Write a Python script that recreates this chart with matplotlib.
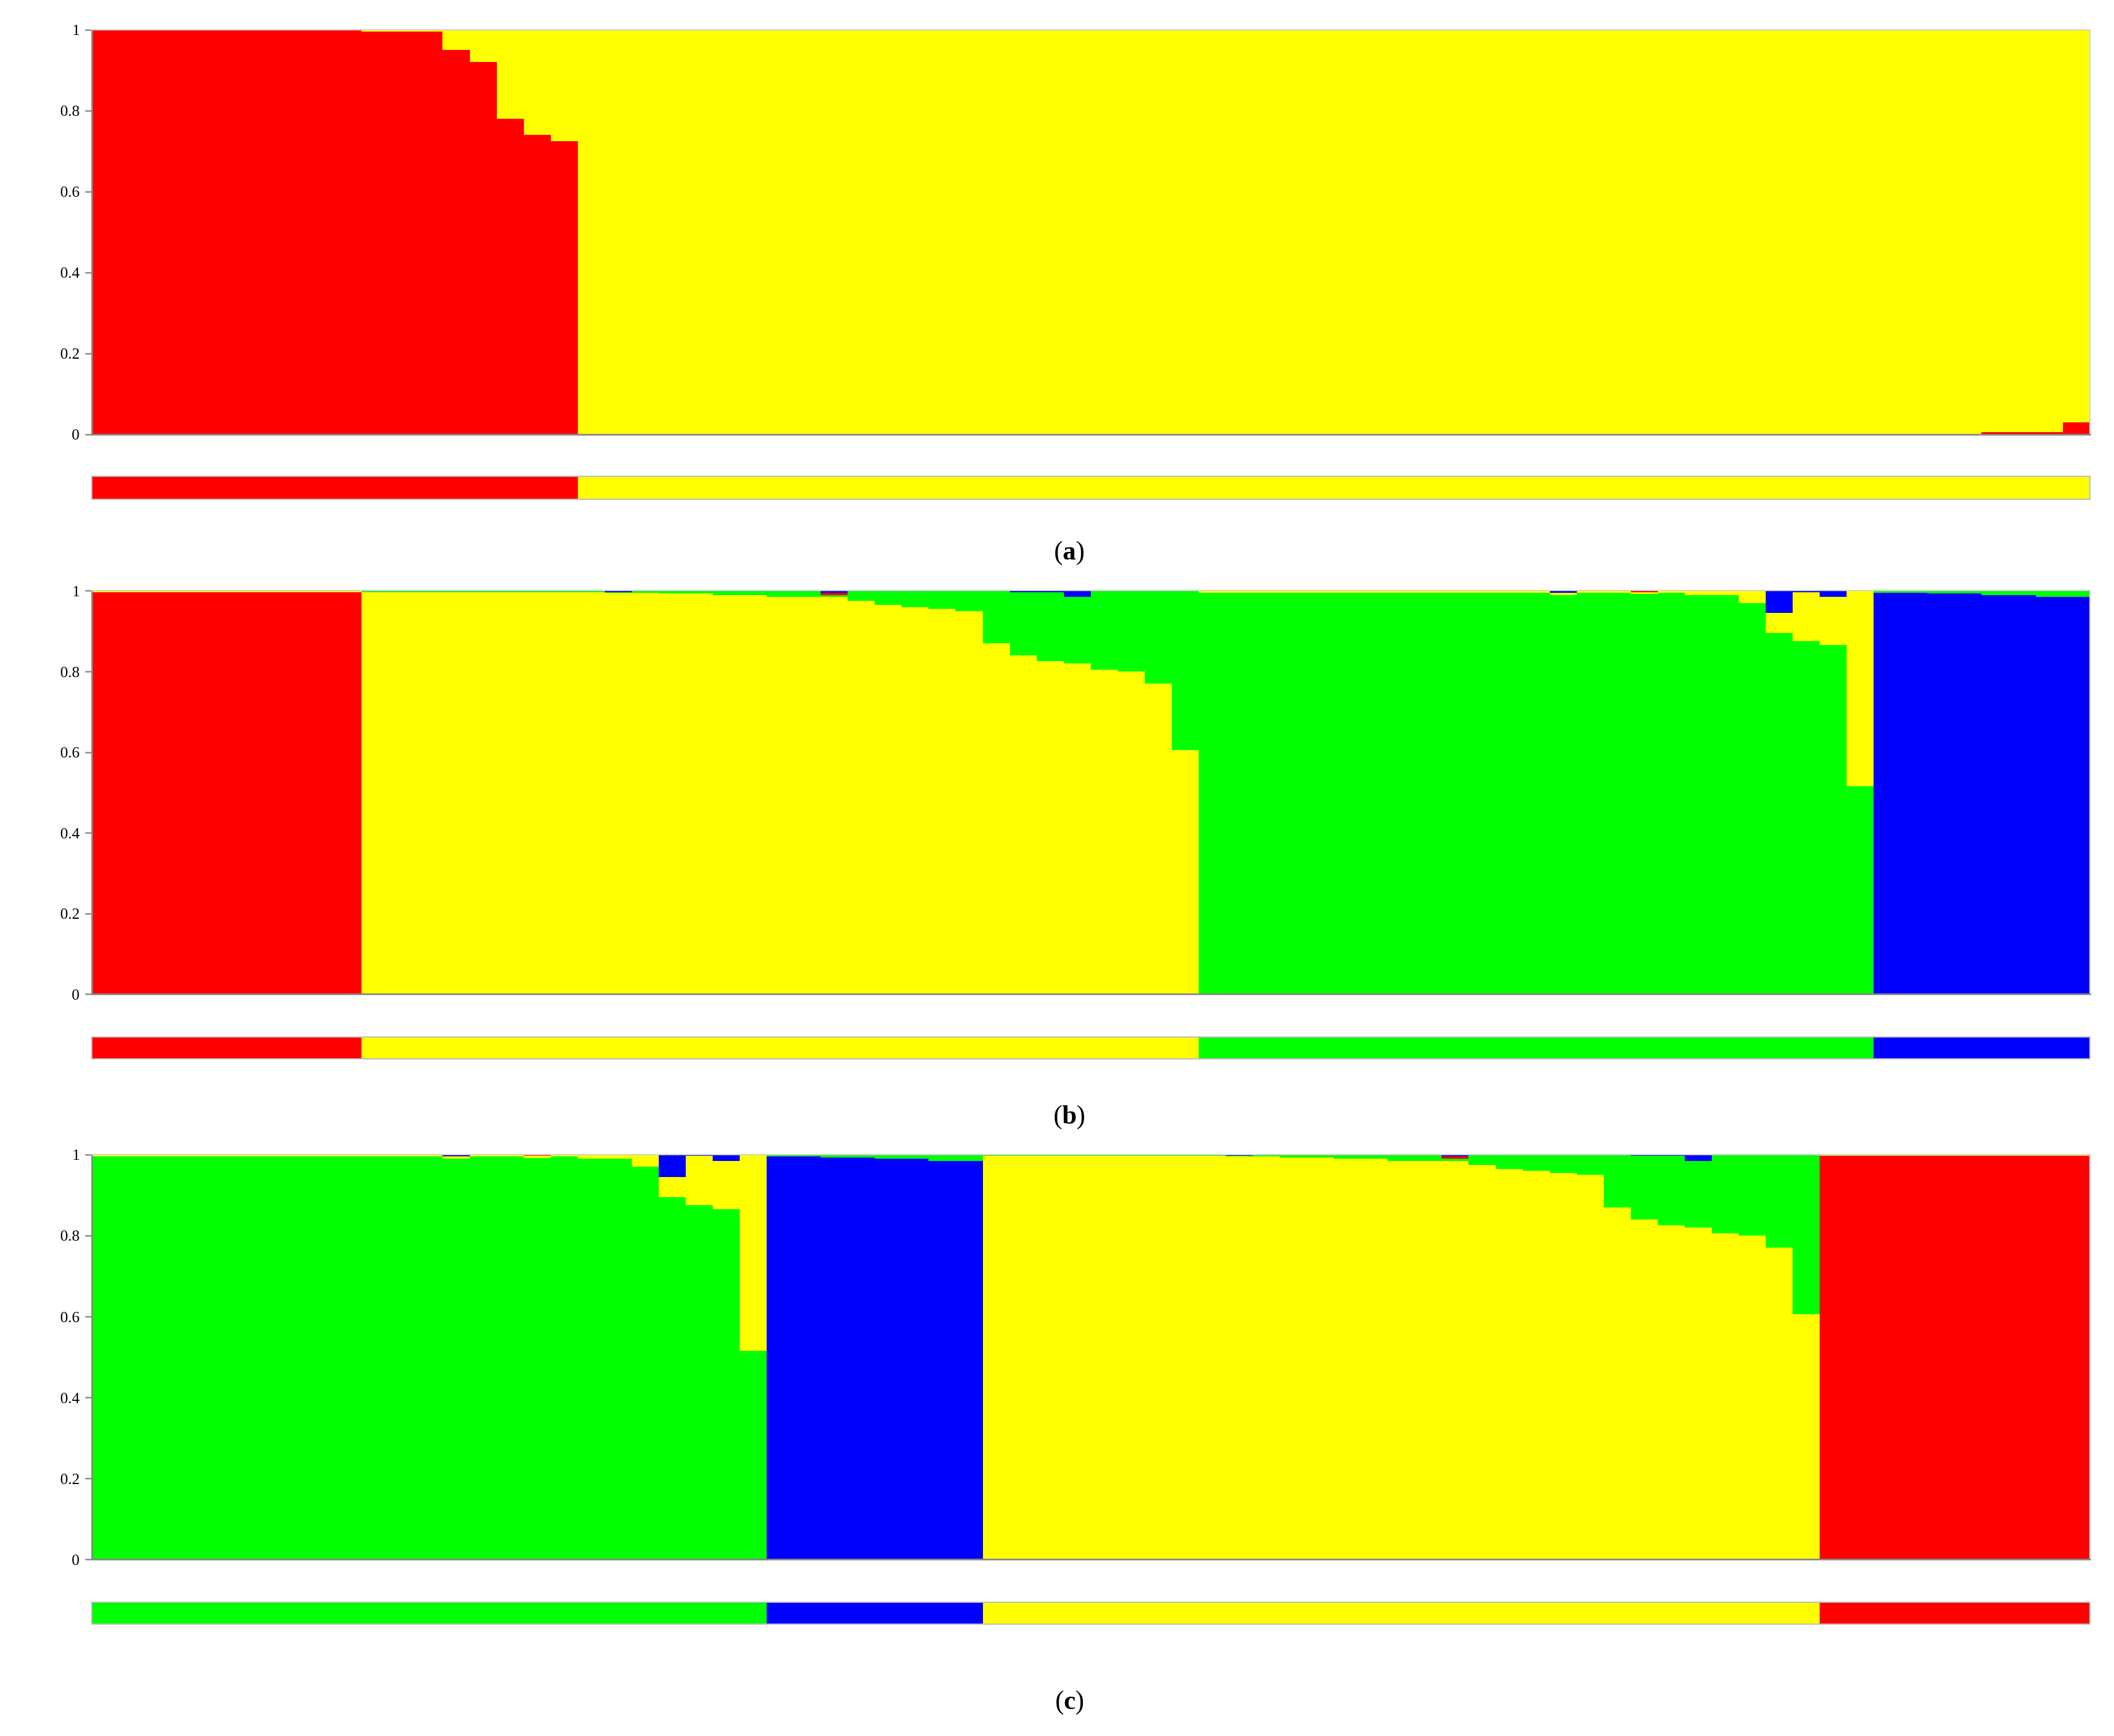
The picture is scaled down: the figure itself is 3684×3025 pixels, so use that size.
import matplotlib
matplotlib.use("Agg")
import matplotlib.pyplot as plt
import numpy as np

plt.rcParams['font.family'] = ['Liberation Serif', 'DejaVu Serif']
plt.rcParams['mathtext.fontset'] = 'custom'
plt.rcParams['mathtext.bf'] = 'Liberation Serif:bold'
plt.rcParams['mathtext.rm'] = 'Liberation Serif'

RED, YEL, GRN, BLU = '#FF0000', '#FFFF00', '#00FF00', '#0000FF'

# ---- Panel (a): K=2, red proportion per individual (yellow = rest)
a_red = [1.0]*10 + [0.995]*3 + [0.95, 0.92, 0.78, 0.74, 0.725] + [0.0]*52 + [0.005, 0.005, 0.005, 0.03]
a_groups = ['red']*18 + ['yellow']*56

# ---- Panel (b): K=4 clusters (red, yellow, green, blue)
rc_red = [0.997]*10
rc_yel = [0.003]*10
rc_grn = [0.0]*10
rc_blu = [0.0]*10
yc_yel = [0.997]*9 + [0.995, 0.995, 0.993, 0.993, 0.99, 0.99, 0.985, 0.985, 0.985,
          0.975, 0.965, 0.96, 0.955, 0.95, 0.87, 0.84, 0.825, 0.82, 0.805, 0.80, 0.77, 0.605]
yc_red = [0.0]*17 + [0.005] + [0.0]*13
yc_blu = [0.0]*9 + [0.003] + [0.0]*7 + [0.005] + [0.0]*5 + [0.0, 0.003, 0.003, 0.015, 0.0, 0.0, 0.0, 0.0]
gc_grn = [0.995]*13 + [0.99, 0.995, 0.995, 0.992, 0.995, 0.99, 0.99, 0.97, 0.895, 0.875, 0.865, 0.515]
gc_yel = [0.005]*13 + [0.005, 0.005, 0.005, 0.005, 0.005, 0.01, 0.01, 0.03, 0.05, 0.122, 0.12, 0.485]
gc_blu = [0.0]*13 + [0.005, 0.0, 0.0, 0.0, 0.0, 0.0, 0.0, 0.0, 0.055, 0.003, 0.015, 0.0]
gc_red = [0.0]*16 + [0.003] + [0.0]*8
bc_blu = [0.995, 0.995, 0.993, 0.993, 0.99, 0.99, 0.985, 0.985]

R = np.array([rc_red, rc_yel, rc_grn, rc_blu], dtype=float).T
Y = np.array([yc_red, yc_yel, [0.0]*31, yc_blu], dtype=float).T
Y[:, 2] = np.clip(1 - Y[:, 0] - Y[:, 1] - Y[:, 3], 0, 1)
G = np.array([gc_red, gc_yel, gc_grn, gc_blu], dtype=float).T
G[:, 2] = np.clip(1 - G[:, 0] - G[:, 1] - G[:, 3], 0, 1)
B = np.zeros((8, 4)); B[:, 3] = bc_blu; B[:, 2] = 1 - B[:, 3]

b_data = np.vstack([R, Y, G, B])
b_groups = ['red']*10 + ['yellow']*31 + ['green']*25 + ['blue']*8
c_data = np.vstack([G, B, Y, R])
c_groups = ['green']*25 + ['blue']*8 + ['yellow']*31 + ['red']*10

cmap = {'red': RED, 'yellow': YEL, 'green': GRN, 'blue': BLU}

W, H = 1568, 1287
fig = plt.figure(figsize=(3684/300, 3025/300), dpi=300)

def ax_at(x0, y0, x1, y1):
    return fig.add_axes([x0/W, 1 - y1/H, (x1-x0)/W, (y1-y0)/H])

def style(ax):
    ax.set_xlim(0, 74); ax.set_ylim(0, 1)
    for s in ['top', 'right']:
        ax.spines[s].set_color('#d0d0d0'); ax.spines[s].set_linewidth(0.5)
    for s in ['left', 'bottom']:
        ax.spines[s].set_color('#888888'); ax.spines[s].set_linewidth(0.7)
    ax.set_xticks([])
    ax.set_yticks([0, 0.2, 0.4, 0.6, 0.8, 1])
    ax.set_yticklabels(['0', '0.2', '0.4', '0.6', '0.8', '1'], fontsize=6.5)
    ax.tick_params(axis='y', length=3, width=0.6, color='#888888', pad=2)

def groupbar(ax, groups):
    x = np.arange(len(groups))
    ax.bar(x, 1, width=1, align='edge', color=[cmap[g] for g in groups], linewidth=0)
    ax.set_xlim(0, 74); ax.set_ylim(0, 1)
    ax.set_xticks([]); ax.set_yticks([])
    for s in ax.spines.values():
        s.set_color('#bbbbbb'); s.set_linewidth(0.5)

# panel a
ax = ax_at(68, 22, 1550, 322)
x = np.arange(74)
ar = np.array(a_red)
ax.bar(x, ar, width=1, align='edge', color=RED, linewidth=0)
ax.bar(x, 1 - ar, bottom=ar, width=1, align='edge', color=YEL, linewidth=0)
style(ax)
groupbar(ax_at(68, 353, 1550, 370), a_groups)

def structure(ax, data):
    cols = [RED, YEL, GRN, BLU]
    for i, row in enumerate(data):
        dom = int(np.argmax(row))
        seq = [dom] + [k for k in [1, 2, 0, 3] if k != dom]
        b = 0
        for k in seq:
            if row[k] > 0:
                ax.bar(i, row[k], bottom=b, width=1, align='edge', color=cols[k], linewidth=0)
                b += row[k]
    style(ax)

structure(ax_at(68, 438, 1550, 737), b_data)
groupbar(ax_at(68, 769, 1550, 785), b_groups)
structure(ax_at(68, 856, 1550, 1156), c_data)
groupbar(ax_at(68, 1188, 1550, 1204), c_groups)

for lab, yy in [('a', 410), ('b', 828), ('c', 1262)]:
    fig.text(793/W, 1 - yy/H, r'($\mathbf{' + lab + r'}$)', ha='center', va='center', fontsize=11)

fig.savefig('out.png', dpi=300, facecolor='white')
